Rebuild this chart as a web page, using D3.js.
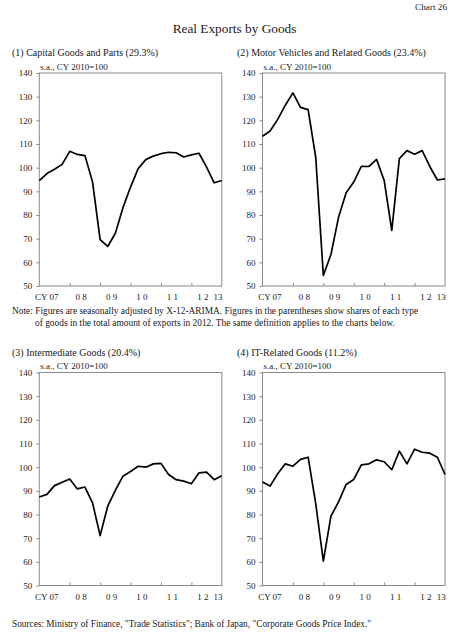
<!DOCTYPE html>
<html>
<head>
<meta charset="utf-8">
<script src="https://cdn.jsdelivr.net/npm/d3@7"></script>
<style>
  body { margin: 0; background: #fff; }
  svg { display: block; font-family: "Liberation Serif", "Times New Roman", serif; fill: #1a1a1a; }
  .frame { fill: none; stroke: #8a8a8a; stroke-width: 1; }
  .axis path { display: none; }
  .axis line { stroke: #8a8a8a; }
  .axis text { font-family: "Liberation Serif", serif; font-size: 9px; fill: #1a1a1a; }
</style>
</head>
<body>
<div id="chart"></div>
<script>
// quarterly, CY 2007 Q1 .. 2013 Q1
var quarters = ["2007Q1","2007Q2","2007Q3","2007Q4",
                "2008Q1","2008Q2","2008Q3","2008Q4",
                "2009Q1","2009Q2","2009Q3","2009Q4",
                "2010Q1","2010Q2","2010Q3","2010Q4",
                "2011Q1","2011Q2","2011Q3","2011Q4",
                "2012Q1","2012Q2","2012Q3","2012Q4",
                "2013Q1"];

var capitalGoods = [94.5, 97.5, 99.3, 101.4, 106.9, 105.6, 105.1, 94.0, 69.6, 66.7,
                    72.3, 83.1, 91.8, 99.6, 103.4, 104.9, 105.9, 106.5, 106.3, 104.5,
                    105.4, 106.1, 100.2, 93.6, 94.6];
var motorVehicles = [113.3, 115.5, 120.4, 126.4, 131.6, 125.5, 124.5, 104.4, 54.5, 63.3,
                     79.0, 89.4, 93.9, 100.6, 100.5, 103.5, 94.6, 73.5, 103.8, 107.2,
                     105.7, 107.2, 100.5, 94.8, 95.3];
var intermediateGoods = [87.4, 88.5, 92.2, 93.6, 95.0, 90.8, 91.6, 84.9, 71.1, 83.5,
                         90.2, 96.2, 98.2, 100.4, 100.0, 101.4, 101.6, 96.9, 94.7, 94.1,
                         93.0, 97.6, 97.9, 94.7, 96.4];
var itGoods = [93.7, 92.0, 97.2, 101.4, 100.4, 103.3, 104.2, 84.6, 60.3, 79.3,
               85.3, 92.7, 94.8, 101.0, 101.4, 103.1, 102.3, 98.9, 106.8, 101.4,
               107.6, 106.3, 105.9, 104.2, 96.9];

var panelTitles = ["(1) Capital Goods and Parts (29.3%)",
                   "(2) Motor Vehicles and Related Goods (23.4%)",
                   "(3) Intermediate Goods (20.4%)",
                   "(4) IT-Related Goods (11.2%)"];

var yTicks = [50, 60, 70, 80, 90, 100, 110, 120, 130, 140];
var yearTicks = ["2008Q1", "2009Q1", "2010Q1", "2011Q1", "2012Q1"];
var yearLabelQuarters = ["2007Q2", "2008Q2", "2009Q2", "2010Q2", "2011Q2", "2012Q2", "2012Q4"];
var yearLabels = ["CY 07", "0 8", "0 9", "1 0", "1 1", "1 2", "13"];

var unitLabel = "s.a., CY 2010=100";
var noteLines = ["Note: Figures are seasonally adjusted by X-12-ARIMA. Figures in the parentheses show shares of each type",
                 "of goods in the total amount of exports in 2012. The same definition applies to the charts below."];
var sourceLine = "Sources: Ministry of Finance, \"Trade Statistics\"; Bank of Japan, \"Corporate Goods Price Index.\"";

var svg = d3.select("#chart")
            .append("svg")
            .attr("width", 462)
            .attr("height", 640);

svg.append("text")
    .attr("x", 447).attr("y", 10)
    .attr("text-anchor", "end")
    .style("font-size", "9.2px")
    .text("Chart 26");

svg.append("text")
    .attr("x", 234.5).attr("y", 33)
    .attr("text-anchor", "middle")
    .style("font-size", "13.3px")
    .text("Real Exports by Goods");

var width = 182.5, height = 213;

var drawPanel = function(values, title, left, top, titleX) {
  var g = svg.append("g")
             .attr("transform", "translate(" + left + "," + top + ")");

  var x = d3.scalePoint().domain(quarters).range([0, width]);
  var y = d3.scaleLinear().domain([50, 140]).range([height, 0]);
  var step = x.step();

  svg.append("text")
      .attr("x", titleX).attr("y", top - 17)
      .style("font-size", "10px")
      .text(title);

  g.append("text")
      .attr("x", 1).attr("y", -3.5)
      .style("font-size", "9px")
      .text(unitLabel);

  var yAxis = d3.axisLeft(y)
      .tickValues(yTicks)
      .tickSize(3)
      .tickPadding(4);

  g.append("g")
      .attr("class", "y axis")
      .call(yAxis);

  // year separators, pointing up from the bottom edge
  var xAxis = d3.axisTop(x)
      .tickValues(yearTicks)
      .tickSize(3)
      .tickFormat("");

  g.append("g")
      .attr("class", "x axis")
      .attr("transform", "translate(0," + height + ")")
      .call(xAxis);

  g.selectAll(".yearLabel")
      .data(yearLabels)
      .enter()
      .append("text")
      .attr("class", "yearLabel")
      .attr("x", function(d, i) {
        var pos = x(yearLabelQuarters[i]) + step / 2;
        if (i == 0) pos = pos - 4;
        return pos;
      })
      .attr("y", height + 14)
      .attr("text-anchor", "middle")
      .style("font-size", "9px")
      .text(function(d) { return d; });

  g.append("rect")
      .attr("class", "frame")
      .attr("x", 0).attr("y", 0)
      .attr("width", width).attr("height", height);

  var line = d3.line()
      .x(function(d, i) { return x(quarters[i]); })
      .y(function(d) { return y(d); });

  g.append("path")
      .datum(values)
      .attr("fill", "none")
      .attr("stroke", "#000")
      .attr("stroke-width", 1.7)
      .attr("stroke-linejoin", "round")
      .attr("d", line);
};

drawPanel(capitalGoods, panelTitles[0], 39.3, 73, 12);
drawPanel(motorVehicles, panelTitles[1], 262.5, 73, 237);
drawPanel(intermediateGoods, panelTitles[2], 39.3, 372.5, 12);
drawPanel(itGoods, panelTitles[3], 262.5, 372.5, 237);

svg.selectAll(".note")
    .data(noteLines)
    .enter()
    .append("text")
    .attr("class", "note")
    .attr("x", function(d, i) { return i == 0 ? 12 : 35; })
    .attr("y", function(d, i) { return 314 + i * 12; })
    .style("font-size", "9.4px")
    .text(function(d) { return d; });

svg.append("text")
    .attr("x", 12).attr("y", 627)
    .style("font-size", "9.3px")
    .text(sourceLine);
</script>
</body>
</html>
